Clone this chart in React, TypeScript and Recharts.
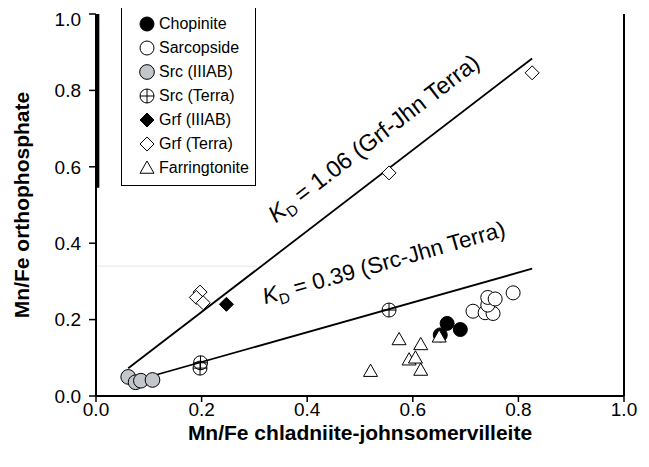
import React from 'react';
import { ScatterChart, Scatter, XAxis, YAxis, ReferenceLine, ReferenceDot } from 'recharts';

const chopinite = [
  { x: 0.665, y: 0.19 },
  { x: 0.69, y: 0.174 },
  { x: 0.652, y: 0.16 },
];
const sarcopside = [
  { x: 0.714, y: 0.222 },
  { x: 0.737, y: 0.218 },
  { x: 0.752, y: 0.216 },
  { x: 0.742, y: 0.238 },
  { x: 0.742, y: 0.258 },
  { x: 0.756, y: 0.254 },
  { x: 0.79, y: 0.27 },
];
const srcIIIAB = [
  { x: 0.061, y: 0.05 },
  { x: 0.075, y: 0.036 },
  { x: 0.085, y: 0.04 },
  { x: 0.107, y: 0.042 },
];
const srcTerra = [
  { x: 0.198, y: 0.087 },
  { x: 0.197, y: 0.073 },
  { x: 0.555, y: 0.225 },
];
const grfIIIAB = [{ x: 0.247, y: 0.24 }];
const grfTerra = [
  { x: 0.197, y: 0.272 },
  { x: 0.19, y: 0.258 },
  { x: 0.203, y: 0.244 },
  { x: 0.555, y: 0.584 },
  { x: 0.826, y: 0.846 },
];
const farringtonite = [
  { x: 0.52, y: 0.065 },
  { x: 0.574, y: 0.148 },
  { x: 0.593, y: 0.095 },
  { x: 0.605, y: 0.1 },
  { x: 0.615, y: 0.135 },
  { x: 0.615, y: 0.068 },
  { x: 0.65, y: 0.155 },
];

const xTicks = [0, 0.2, 0.4, 0.6, 0.8, 1.0];
const yTicks = [0, 0.2, 0.4, 0.6, 0.8, 1.0];

const grfFit = { slope: 1.06, intercept: 0.008, x0: 0.061, x1: 0.826 };
const srcFit = { slope: 0.39, intercept: 0.011, x0: 0.059, x1: 0.826 };

const legendNames = [
  'Chopinite',
  'Sarcopside',
  'Src (IIIAB)',
  'Src (Terra)',
  'Grf (IIIAB)',
  'Grf (Terra)',
  'Farringtonite',
];

const FONT = '"Liberation Sans", Arial, sans-serif';
const GREY = '#c3c6cb';

const drawMarker = (kind: string, cx: number, cy: number, s = 1) => {
  const r = 7 * s;
  switch (kind) {
    case 'Chopinite':
      return <circle cx={cx} cy={cy} r={r} fill="#000" stroke="#000" strokeWidth={1} />;
    case 'Sarcopside':
      return <circle cx={cx} cy={cy} r={r} fill="#fff" stroke="#000" strokeWidth={1} />;
    case 'Src (IIIAB)':
      return <circle cx={cx} cy={cy} r={r * 1.05} fill={GREY} stroke="#000" strokeWidth={1} />;
    case 'Src (Terra)':
      return (
        <g>
          <circle cx={cx} cy={cy} r={r} fill="#fff" fillOpacity={0} stroke="#000" strokeWidth={1} />
          <line x1={cx - r} y1={cy} x2={cx + r} y2={cy} stroke="#000" strokeWidth={1} />
          <line x1={cx} y1={cy - r} x2={cx} y2={cy + r} stroke="#000" strokeWidth={1} />
        </g>
      );
    case 'Grf (IIIAB)':
      return (
        <polygon
          points={`${cx},${cy - r} ${cx + r},${cy} ${cx},${cy + r} ${cx - r},${cy}`}
          fill="#000"
          stroke="#000"
          strokeWidth={1}
        />
      );
    case 'Grf (Terra)':
      return (
        <polygon
          points={`${cx},${cy - r} ${cx + r},${cy} ${cx},${cy + r} ${cx - r},${cy}`}
          fill="#fff"
          stroke="#000"
          strokeWidth={1}
        />
      );
    case 'Farringtonite':
    default:
      return (
        <polygon
          points={`${cx},${cy - r} ${cx + r},${cy + r * 0.75} ${cx - r},${cy + r * 0.75}`}
          fill="#fff"
          stroke="#000"
          strokeWidth={1}
        />
      );
  }
};

const shapeFor = (kind: string) => (p: any) => drawMarker(kind, p.cx, p.cy);

const LegendBox = () => (
  <div
    style={{
      position: 'absolute',
      left: 113,
      top: -3,
      width: 135,
      height: 181,
      border: '1.5px solid #000',
      background: '#fff',
      fontFamily: FONT,
      fontSize: 16,
      boxSizing: 'border-box',
      paddingTop: 6,
    }}
  >
    {legendNames.map((n) => (
      <div key={n} style={{ display: 'flex', alignItems: 'center', height: 24, paddingLeft: 16 }}>
        <svg width={18} height={18} style={{ marginRight: 3 }}>
          {drawMarker(n, 9, 9, 1)}
        </svg>
        <span>{n}</span>
      </div>
    ))}
  </div>
);

const RotLabel = (props: any) => {
  const vb = props.viewBox || {};
  const cx = vb.x + (vb.width || 0) / 2;
  const cy = vb.y + (vb.height || 0) / 2;
  return (
    <text
      transform={`translate(${cx},${cy}) rotate(${props.angle})`}
      textAnchor="middle"
      fontSize={props.size}
      fontFamily={FONT}
      fill="#000"
    >
      <tspan fontStyle="italic">K</tspan>
      <tspan dy={5} fontSize={15}>D</tspan>
      <tspan dy={-5}>{' = ' + props.text}</tspan>
    </text>
  );
};

export default function App() {
  return (
    <div style={{ position: 'relative', width: 633, height: 451 }}>
      <ScatterChart
        width={633}
        height={451}
        margin={{ top: 6, right: 17, bottom: 0, left: 0 }}
        style={{ fontFamily: FONT }}
      >
        <XAxis
          type="number"
          dataKey="x"
          domain={[0, 1]}
          ticks={xTicks}
          tickFormatter={(v: number) => v.toFixed(1)}
          axisLine={{ stroke: '#000', strokeWidth: 2 }}
          tickLine={{ stroke: '#000', strokeWidth: 1.5 }}
          tickSize={6}
          tickMargin={1}
          tick={{ fill: '#000', fontSize: 19, fontFamily: FONT }}
          height={63}
          label={{
            value: 'Mn/Fe chladniite-johnsomervilleite',
            position: 'insideBottom',
            offset: 19,
            style: { fontWeight: 'bold', fontSize: 21, fill: '#000', fontFamily: FONT },
          }}
        />
        <YAxis
          type="number"
          dataKey="y"
          domain={[0, 1]}
          ticks={yTicks}
          tickFormatter={(v: number) => v.toFixed(1)}
          axisLine={{ stroke: '#000', strokeWidth: 2 }}
          tickLine={{ stroke: '#000', strokeWidth: 1.5 }}
          tickSize={7}
          tickMargin={8}
          tick={{ fill: '#000', fontSize: 19, fontFamily: FONT }}
          width={88}
          label={{
            value: 'Mn/Fe orthophosphate',
            angle: -90,
            position: 'insideLeft',
            offset: 14,
            style: { fontWeight: 'bold', fontSize: 21, fill: '#000', fontFamily: FONT, textAnchor: 'middle' },
          }}
        />
        <ReferenceLine x={1} stroke="#000" strokeWidth={2} />
        <ReferenceLine
          segment={[{ x: 0.003, y: 0.545 }, { x: 0.003, y: 1 }]}
          stroke="#000"
          strokeWidth={3.5}
        />
        <ReferenceLine
          segment={[{ x: 0, y: 0.34 }, { x: 0.305, y: 0.34 }]}
          stroke="#e4e4e4"
          strokeWidth={1}
        />
        <ReferenceLine
          segment={[
            { x: grfFit.x0, y: grfFit.slope * grfFit.x0 + grfFit.intercept },
            { x: grfFit.x1, y: grfFit.slope * grfFit.x1 + grfFit.intercept },
          ]}
          stroke="#000"
          strokeWidth={1.8}
        />
        <ReferenceLine
          segment={[
            { x: srcFit.x0, y: srcFit.slope * srcFit.x0 + srcFit.intercept },
            { x: srcFit.x1, y: srcFit.slope * srcFit.x1 + srcFit.intercept },
          ]}
          stroke="#000"
          strokeWidth={1.8}
        />
        <Scatter name="Src (IIIAB)" data={srcIIIAB} shape={shapeFor('Src (IIIAB)')} isAnimationActive={false} />
        <Scatter name="Sarcopside" data={sarcopside} shape={shapeFor('Sarcopside')} isAnimationActive={false} />
        <Scatter name="Chopinite" data={chopinite} shape={shapeFor('Chopinite')} isAnimationActive={false} />
        <Scatter name="Farringtonite" data={farringtonite} shape={shapeFor('Farringtonite')} isAnimationActive={false} />
        <Scatter name="Src (Terra)" data={srcTerra} shape={shapeFor('Src (Terra)')} isAnimationActive={false} />
        <Scatter name="Grf (Terra)" data={grfTerra} shape={shapeFor('Grf (Terra)')} isAnimationActive={false} />
        <Scatter name="Grf (IIIAB)" data={grfIIIAB} shape={shapeFor('Grf (IIIAB)')} isAnimationActive={false} />
        <ReferenceDot
          x={0.535}
          y={0.658}
          r={1}
          fill="none"
          stroke="none"
          label={(p: any) => <RotLabel {...p} size={23.5} angle={-37.5} text="1.06 (Grf-Jhn Terra)" />}
        />
        <ReferenceDot
          x={0.549}
          y={0.33}
          r={1}
          fill="none"
          stroke="none"
          label={(p: any) => <RotLabel {...p} size={22.5} angle={-15.8} text="0.39 (Src-Jhn Terra)" />}
        />
      </ScatterChart>
      <LegendBox />
    </div>
  );
}
